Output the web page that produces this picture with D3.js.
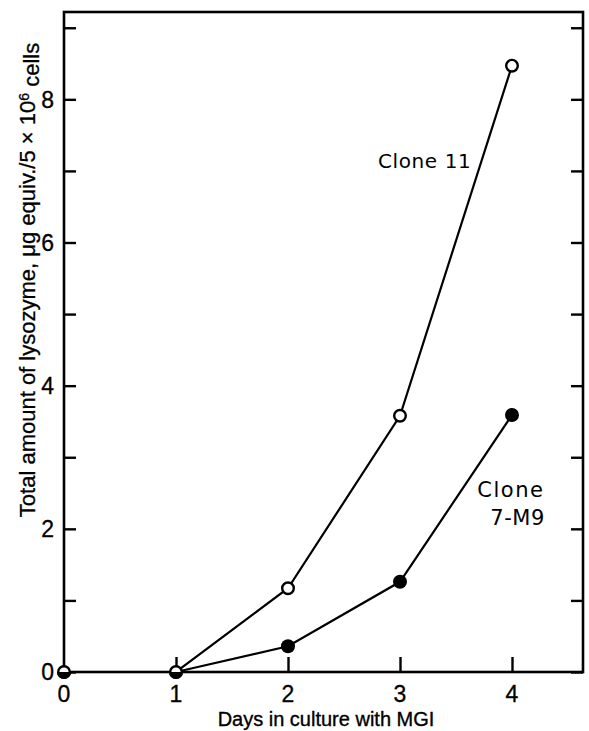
<!DOCTYPE html>
<html>
<head>
<meta charset="utf-8">
<script src="https://cdn.jsdelivr.net/npm/d3@7"></script>
<style>
  html, body { margin: 0; padding: 0; background: #fff; }
  svg { display: block; }
</style>
</head>
<body>
<script>
// ---- data ----
const days = [0, 1, 2, 3, 4];
const clone11 = [0, 0, 1.17, 3.58, 8.47];      // open circles
const clone7M9 = [0, 0, 0.36, 1.26, 3.59];     // filled circles
const xTickValues = [0, 1, 2, 3, 4];
const yTickLabels = [0, 2, 4, 6, 8];
const yMinorTicks = [0, 1, 2, 3, 4, 5, 6, 7, 8, 9];
const seriesLabels = ["Clone 11", "Clone", "7-M9"];

const W = 589, H = 731;
const margin = {left: 64, right: 6, top: 12, bottom: 59};
const iw = W - margin.left - margin.right;
const ih = H - margin.top - margin.bottom;

const svg = d3.select("body").append("svg").attr("width", W).attr("height", H);
const g = svg.append("g").attr("transform", `translate(${margin.left},${margin.top})`);

const x = d3.scaleLinear().domain([0, 4.634]).range([0, iw]);
const y = d3.scaleLinear().domain([0, 9.22]).range([ih, 0]);

const axisFont = "'Liberation Sans', Arial, sans-serif";
const labelFont = "'DejaVu Sans', sans-serif";

// frame
g.append("rect").attr("x", 0).attr("y", 0).attr("width", iw).attr("height", ih)
  .attr("fill", "none").attr("stroke", "#000").attr("stroke-width", 2.6);

// left axis (ticks inward)
const yAxisL = d3.axisLeft(y).tickValues(yMinorTicks).tickSize(-12).tickFormat("");
g.append("g").call(yAxisL).call(s => {
  s.select(".domain").remove();
  s.selectAll("line").attr("stroke-width", 2.4);
});
// right axis ticks inward
const yAxisR = d3.axisRight(y).tickValues(yMinorTicks).tickSize(-12).tickFormat("");
g.append("g").attr("transform", `translate(${iw},0)`).call(yAxisR).call(s => {
  s.select(".domain").remove();
  s.selectAll("line").attr("stroke-width", 2.4);
});
// y tick labels
g.append("g").selectAll("text").data(yTickLabels).join("text")
  .attr("x", -10).attr("y", d => y(d)).attr("dy", "0.36em")
  .attr("text-anchor", "end")
  .style("font-family", axisFont).style("font-size", "23px")
  .attr("stroke", "#000").attr("stroke-width", 0.3)
  .text(d => d);

// bottom axis ticks inward
const xAxis = d3.axisBottom(x).tickValues(xTickValues.filter(d => d > 0)).tickSize(-15).tickFormat("");
g.append("g").attr("transform", `translate(0,${ih})`).call(xAxis).call(s => {
  s.select(".domain").remove();
  s.selectAll("line").attr("stroke-width", 2.4);
});
g.append("g").selectAll("text").data(xTickValues).join("text")
  .attr("x", d => x(d)).attr("y", ih + 30)
  .attr("text-anchor", "middle")
  .style("font-family", axisFont).style("font-size", "23px")
  .attr("stroke", "#000").attr("stroke-width", 0.3)
  .text(d => d);

// axis titles
svg.append("text")
  .attr("x", 326).attr("y", H - 5)
  .attr("text-anchor", "middle")
  .style("font-family", axisFont).style("font-size", "20px")
  .attr("stroke", "#000").attr("stroke-width", 0.35)
  .text("Days in culture with MGI");

const yt = svg.append("text")
  .attr("transform", `translate(35,${280}) rotate(-90)`)
  .attr("text-anchor", "middle")
  .style("font-family", axisFont).style("font-size", "22px")
  .attr("stroke", "#000").attr("stroke-width", 0.3);
yt.append("tspan").text("Total amount of lysozyme, ");
yt.append("tspan").text("μg");
yt.append("tspan").text(" equiv./5 × 10");
yt.append("tspan").attr("dy", "-0.45em").style("font-size", "14px").text("6");
yt.append("tspan").attr("dy", "0.45em").text(" cells");

// lines
const line = d3.line().x((d, i) => x(days[i])).y(d => y(d));
g.append("path").datum(clone11).attr("d", line)
  .attr("fill", "none").attr("stroke", "#000").attr("stroke-width", 2.2);
g.append("path").datum(clone7M9).attr("d", line)
  .attr("fill", "none").attr("stroke", "#000").attr("stroke-width", 2.2);

const r = 5.8;
// open circles (Clone 11)
g.append("g").selectAll("circle").data(clone11).join("circle")
  .attr("cx", (d, i) => x(days[i])).attr("cy", d => y(d)).attr("r", r)
  .attr("fill", "#fff").attr("stroke", "#000").attr("stroke-width", 2.4);

// filled markers (Clone 7-M9): half-filled where coinciding with Clone 11
const halfArc = d3.arc().innerRadius(0).outerRadius(r + 1.2)
  .startAngle(Math.PI / 2).endAngle(3 * Math.PI / 2);
const pts = clone7M9.map((d, i) => ({v: d, i, same: Math.abs(d - clone11[i]) < 1e-9}));
g.append("g").selectAll("circle").data(pts.filter(p => !p.same)).join("circle")
  .attr("cx", p => x(days[p.i])).attr("cy", p => y(p.v)).attr("r", r + 1.2)
  .attr("fill", "#000");
g.append("g").selectAll("path").data(pts.filter(p => p.same)).join("path")
  .attr("transform", p => `translate(${x(days[p.i])},${y(p.v)})`)
  .attr("d", halfArc).attr("fill", "#000");

// series labels
g.append("text").attr("x", x(3.22)).attr("y", y(7.04))
  .attr("text-anchor", "middle")
  .style("font-family", labelFont).style("font-size", "20px").style("letter-spacing", "0.6px")
  .text(seriesLabels[0]);
g.append("text").attr("x", x(3.99)).attr("y", y(2.45))
  .attr("text-anchor", "middle")
  .style("font-family", labelFont).style("font-size", "21px").style("letter-spacing", "1.5px")
  .text(seriesLabels[1]);
g.append("text").attr("x", x(4.05)).attr("y", y(2.05))
  .attr("text-anchor", "middle")
  .style("font-family", labelFont).style("font-size", "21px").style("letter-spacing", "0.6px")
  .text(seriesLabels[2]);
</script>
</body>
</html>
